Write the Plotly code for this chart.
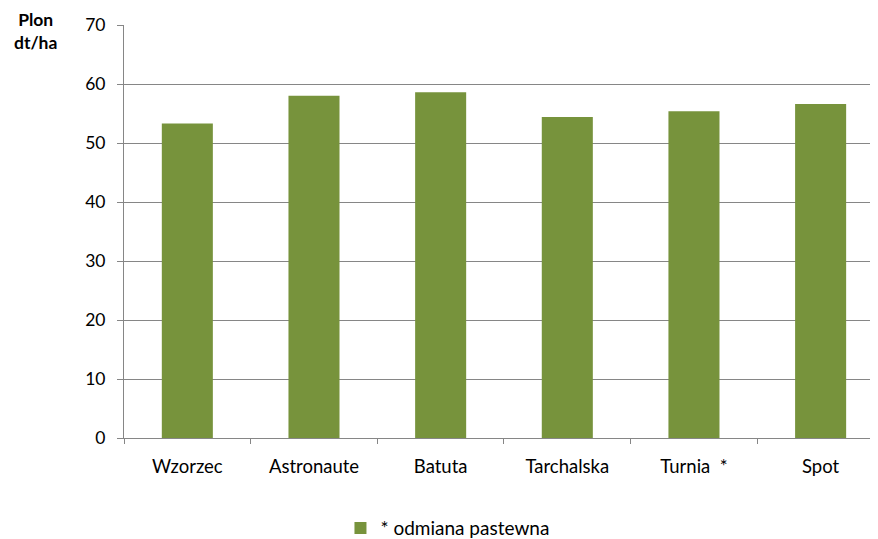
import plotly.graph_objects as go

categories = ["Wzorzec", "Astronaute", "Batuta", "Tarchalska", "Turnia  *", "Spot"]
values = [53.3, 58.0, 58.6, 54.4, 55.4, 56.6]
series_name = "* odmiana pastewna"
y_ticks = [0, 10, 20, 30, 40, 50, 60, 70]

font = "Lato, 'Open Sans', sans-serif"

fig = go.Figure()
fig.add_trace(go.Bar(
    x=categories, y=values, name=series_name,
    marker=dict(color="#77933C", line=dict(width=0)),
    showlegend=True,
))

# page body has an 8px margin, so the figure is sized/placed to compensate
fig.update_layout(
    width=870, height=531,
    margin=dict(l=116, r=0, t=17, b=101, autoexpand=False),
    paper_bgcolor="white", plot_bgcolor="white",
    bargap=0.597,
    font=dict(family=font, size=18, color="#000000"),
    showlegend=True,
    legend=dict(orientation="h", x=0.429, xanchor="center", y=-0.218, yanchor="middle",
                font=dict(size=19), itemwidth=30),
    xaxis=dict(
        range=[-0.5, 5.453], automargin=False,
        showline=True, linecolor="#868686", linewidth=1,
        ticks="outside", tickson="boundaries", ticklen=5, tickcolor="#868686",
        ticklabelstandoff=12,
        showgrid=False, tickfont=dict(size=18.5), fixedrange=True,
    ),
    yaxis=dict(
        range=[0, 70], tickvals=y_ticks, automargin=False,
        showline=True, linecolor="#868686", linewidth=1,
        ticks="outside", ticklen=6, tickcolor="#868686",
        ticklabelstandoff=8,
        showgrid=True, gridcolor="#868686", gridwidth=1,
        zeroline=False, tickfont=dict(size=17.5), fixedrange=True,
    ),
    annotations=[dict(
        text="<b>Plon<br>dt/ha</b>", xref="paper", yref="paper",
        x=-0.118, y=0.985, xanchor="center", yanchor="middle",
        showarrow=False, font=dict(size=17.5), align="center",
    )],
)

fig.write_html("out.html")
